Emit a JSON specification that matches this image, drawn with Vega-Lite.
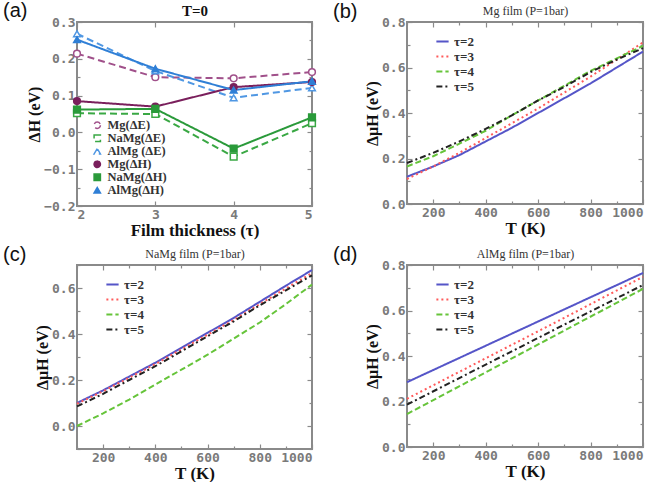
{
  "$schema": "https://vega.github.io/schema/vega-lite/v6.json",
  "background": "white",
  "padding": {"left": 2, "top": 0, "right": 2, "bottom": 0},
  "config": {
    "view": {"stroke": "#8a8a8a", "strokeWidth": 2},
    "axis": {
      "grid": false, "domain": false,
      "tickColor": "#8a8a8a", "tickSize": -5, "tickWidth": 1.2,
      "labelFont": "DejaVu Sans Mono", "labelFontWeight": "bold", "labelColor": "#7a7a7a", "labelFontSize": 13, "labelPadding": 7,
      "titleFont": "Liberation Serif", "titleFontWeight": "bold", "titleFontSize": 17, "titleColor": "#111", "titlePadding": 1
    },
    "legend": {"labelFont": "Liberation Serif", "labelFontWeight": "bold", "labelColor": "#333"},
    "title": {"font": "Liberation Sans", "fontWeight": "normal", "fontSize": 20, "color": "#111", "anchor": "start", "frame": "group", "dx": -74, "offset": -18}
  },
  "datasets": {
    "a": [
      {"t": 2, "dh": 0.214, "s": "Mg(ΔE)"}, {"t": 3, "dh": 0.150, "s": "Mg(ΔE)"}, {"t": 4, "dh": 0.147, "s": "Mg(ΔE)"}, {"t": 5, "dh": 0.164, "s": "Mg(ΔE)"},
      {"t": 2, "dh": 0.052, "s": "NaMg(ΔE)"}, {"t": 3, "dh": 0.050, "s": "NaMg(ΔE)"}, {"t": 4, "dh": -0.066, "s": "NaMg(ΔE)"}, {"t": 5, "dh": 0.025, "s": "NaMg(ΔE)"},
      {"t": 2, "dh": 0.268, "s": "AlMg (ΔE)"}, {"t": 3, "dh": 0.167, "s": "AlMg (ΔE)"}, {"t": 4, "dh": 0.094, "s": "AlMg (ΔE)"}, {"t": 5, "dh": 0.121, "s": "AlMg (ΔE)"},
      {"t": 2, "dh": 0.085, "s": "Mg(ΔH)"}, {"t": 3, "dh": 0.070, "s": "Mg(ΔH)"}, {"t": 4, "dh": 0.123, "s": "Mg(ΔH)"}, {"t": 5, "dh": 0.137, "s": "Mg(ΔH)"},
      {"t": 2, "dh": 0.062, "s": "NaMg(ΔH)"}, {"t": 3, "dh": 0.064, "s": "NaMg(ΔH)"}, {"t": 4, "dh": -0.044, "s": "NaMg(ΔH)"}, {"t": 5, "dh": 0.041, "s": "NaMg(ΔH)"},
      {"t": 2, "dh": 0.252, "s": "AlMg(ΔH)"}, {"t": 3, "dh": 0.173, "s": "AlMg(ΔH)"}, {"t": 4, "dh": 0.115, "s": "AlMg(ΔH)"}, {"t": 5, "dh": 0.139, "s": "AlMg(ΔH)"}
    ],
    "b": [
      {"T": 100, "mu": 0.120, "tau": "τ=2"}, {"T": 200, "mu": 0.165, "tau": "τ=2"}, {"T": 300, "mu": 0.215, "tau": "τ=2"}, {"T": 400, "mu": 0.275, "tau": "τ=2"}, {"T": 500, "mu": 0.335, "tau": "τ=2"}, {"T": 600, "mu": 0.400, "tau": "τ=2"}, {"T": 700, "mu": 0.465, "tau": "τ=2"}, {"T": 800, "mu": 0.530, "tau": "τ=2"}, {"T": 900, "mu": 0.600, "tau": "τ=2"}, {"T": 1000, "mu": 0.670, "tau": "τ=2"},
      {"T": 100, "mu": 0.110, "tau": "τ=3"}, {"T": 200, "mu": 0.165, "tau": "τ=3"}, {"T": 300, "mu": 0.225, "tau": "τ=3"}, {"T": 400, "mu": 0.290, "tau": "τ=3"}, {"T": 500, "mu": 0.355, "tau": "τ=3"}, {"T": 600, "mu": 0.420, "tau": "τ=3"}, {"T": 700, "mu": 0.490, "tau": "τ=3"}, {"T": 800, "mu": 0.560, "tau": "τ=3"}, {"T": 900, "mu": 0.635, "tau": "τ=3"}, {"T": 1000, "mu": 0.710, "tau": "τ=3"},
      {"T": 100, "mu": 0.165, "tau": "τ=4"}, {"T": 200, "mu": 0.210, "tau": "τ=4"}, {"T": 300, "mu": 0.265, "tau": "τ=4"}, {"T": 400, "mu": 0.322, "tau": "τ=4"}, {"T": 500, "mu": 0.390, "tau": "τ=4"}, {"T": 600, "mu": 0.455, "tau": "τ=4"}, {"T": 700, "mu": 0.520, "tau": "τ=4"}, {"T": 800, "mu": 0.585, "tau": "τ=4"}, {"T": 900, "mu": 0.640, "tau": "τ=4"}, {"T": 1000, "mu": 0.695, "tau": "τ=4"},
      {"T": 100, "mu": 0.180, "tau": "τ=5"}, {"T": 200, "mu": 0.225, "tau": "τ=5"}, {"T": 300, "mu": 0.275, "tau": "τ=5"}, {"T": 400, "mu": 0.330, "tau": "τ=5"}, {"T": 500, "mu": 0.390, "tau": "τ=5"}, {"T": 600, "mu": 0.455, "tau": "τ=5"}, {"T": 700, "mu": 0.515, "tau": "τ=5"}, {"T": 800, "mu": 0.580, "tau": "τ=5"}, {"T": 900, "mu": 0.635, "tau": "τ=5"}, {"T": 1000, "mu": 0.685, "tau": "τ=5"}
    ],
    "c": [
      {"T": 100, "mu": 0.100, "tau": "τ=2"}, {"T": 200, "mu": 0.155, "tau": "τ=2"}, {"T": 300, "mu": 0.215, "tau": "τ=2"}, {"T": 400, "mu": 0.275, "tau": "τ=2"}, {"T": 500, "mu": 0.340, "tau": "τ=2"}, {"T": 600, "mu": 0.405, "tau": "τ=2"}, {"T": 700, "mu": 0.470, "tau": "τ=2"}, {"T": 800, "mu": 0.540, "tau": "τ=2"}, {"T": 900, "mu": 0.610, "tau": "τ=2"}, {"T": 1000, "mu": 0.678, "tau": "τ=2"},
      {"T": 100, "mu": 0.097, "tau": "τ=3"}, {"T": 200, "mu": 0.151, "tau": "τ=3"}, {"T": 300, "mu": 0.210, "tau": "τ=3"}, {"T": 400, "mu": 0.269, "tau": "τ=3"}, {"T": 500, "mu": 0.333, "tau": "τ=3"}, {"T": 600, "mu": 0.397, "tau": "τ=3"}, {"T": 700, "mu": 0.461, "tau": "τ=3"}, {"T": 800, "mu": 0.530, "tau": "τ=3"}, {"T": 900, "mu": 0.598, "tau": "τ=3"}, {"T": 1000, "mu": 0.665, "tau": "τ=3"},
      {"T": 100, "mu": 0.000, "tau": "τ=4"}, {"T": 200, "mu": 0.055, "tau": "τ=4"}, {"T": 300, "mu": 0.115, "tau": "τ=4"}, {"T": 400, "mu": 0.180, "tau": "τ=4"}, {"T": 500, "mu": 0.245, "tau": "τ=4"}, {"T": 600, "mu": 0.310, "tau": "τ=4"}, {"T": 700, "mu": 0.380, "tau": "τ=4"}, {"T": 800, "mu": 0.450, "tau": "τ=4"}, {"T": 900, "mu": 0.530, "tau": "τ=4"}, {"T": 1000, "mu": 0.615, "tau": "τ=4"},
      {"T": 100, "mu": 0.085, "tau": "τ=5"}, {"T": 200, "mu": 0.140, "tau": "τ=5"}, {"T": 300, "mu": 0.200, "tau": "τ=5"}, {"T": 400, "mu": 0.260, "tau": "τ=5"}, {"T": 500, "mu": 0.325, "tau": "τ=5"}, {"T": 600, "mu": 0.390, "tau": "τ=5"}, {"T": 700, "mu": 0.455, "tau": "τ=5"}, {"T": 800, "mu": 0.525, "tau": "τ=5"}, {"T": 900, "mu": 0.590, "tau": "τ=5"}, {"T": 1000, "mu": 0.655, "tau": "τ=5"}
    ],
    "d": [
      {"T": 100, "mu": 0.285, "tau": "τ=2"}, {"T": 400, "mu": 0.445, "tau": "τ=2"}, {"T": 700, "mu": 0.605, "tau": "τ=2"}, {"T": 1000, "mu": 0.765, "tau": "τ=2"},
      {"T": 100, "mu": 0.212, "tau": "τ=3"}, {"T": 400, "mu": 0.390, "tau": "τ=3"}, {"T": 700, "mu": 0.568, "tau": "τ=3"}, {"T": 1000, "mu": 0.748, "tau": "τ=3"},
      {"T": 100, "mu": 0.145, "tau": "τ=4"}, {"T": 400, "mu": 0.328, "tau": "τ=4"}, {"T": 700, "mu": 0.512, "tau": "τ=4"}, {"T": 1000, "mu": 0.695, "tau": "τ=4"},
      {"T": 100, "mu": 0.186, "tau": "τ=5"}, {"T": 400, "mu": 0.362, "tau": "τ=5"}, {"T": 700, "mu": 0.538, "tau": "τ=5"}, {"T": 1000, "mu": 0.712, "tau": "τ=5"}
    ]
  },
  "columns": 2,
  "spacing": {"row": 5, "column": 12},
  "concat": [
    {
      "title": "(a)",
      "width": 235, "height": 184,
      "data": {"name": "a"},
      "resolve": {"axis": {"x": "independent", "y": "independent"}},
      "layer": [
        {
          "mark": {"type": "line", "strokeWidth": 2},
          "encoding": {
            "x": {"field": "t", "type": "quantitative", "scale": {"domain": [2, 5]}, "axis": {"orient": "bottom", "values": [2, 3, 4, 5], "title": "Film thickness (τ)"}},
            "y": {"field": "dh", "type": "quantitative", "scale": {"domain": [-0.2, 0.3]}, "axis": {"orient": "left", "values": [-0.2, -0.15, -0.1, -0.05, 0, 0.05, 0.1, 0.15, 0.2, 0.25, 0.3], "format": ".1f", "labelExpr": "abs(round(datum.value*100)) % 10 == 0 ? datum.label : ''", "tickSize": {"condition": {"test": "abs(round(datum.value*100)) % 10 == 0", "value": -5}, "value": -3}, "title": "ΔH (eV)", "titleFontSize": 16}},
            "stroke": {"field": "s", "type": "nominal", "title": null, "scale": {"domain": ["Mg(ΔE)", "NaMg(ΔE)", "AlMg (ΔE)", "Mg(ΔH)", "NaMg(ΔH)", "AlMg(ΔH)"], "range": ["#a0508a", "#3aa844", "#4f97e3", "#7a1f5c", "#2a9a3a", "#2f7fd6"]}, "legend": {"orient": "none", "legendX": 14, "legendY": 97, "labelFontSize": 12.5, "symbolSize": 40, "rowPadding": 0, "symbolStrokeWidth": 1.5}},
            "strokeDash": {"field": "s", "type": "nominal", "title": null, "scale": {"domain": ["Mg(ΔE)", "NaMg(ΔE)", "AlMg (ΔE)", "Mg(ΔH)", "NaMg(ΔH)", "AlMg(ΔH)"], "range": [[7, 4], [7, 4], [7, 4], [1, 0], [1, 0], [1, 0]]}}
          }
        },
        {
          "mark": {"type": "point", "size": 45, "strokeWidth": 1.5, "opacity": 1},
          "encoding": {
            "x": {"field": "t", "type": "quantitative", "axis": {"orient": "top", "values": [2, 3, 4, 5], "labels": false, "title": "T=0", "titleFontSize": 15, "titlePadding": 3}},
            "y": {"field": "dh", "type": "quantitative", "axis": {"orient": "right", "values": [-0.2, -0.15, -0.1, -0.05, 0, 0.05, 0.1, 0.15, 0.2, 0.25, 0.3], "labels": false, "tickSize": {"condition": {"test": "abs(round(datum.value*100)) % 10 == 0", "value": -5}, "value": -3}, "title": null}},
            "stroke": {"field": "s", "type": "nominal", "title": null},
            "shape": {"field": "s", "type": "nominal", "title": null, "scale": {"domain": ["Mg(ΔE)", "NaMg(ΔE)", "AlMg (ΔE)", "Mg(ΔH)", "NaMg(ΔH)", "AlMg(ΔH)"], "range": ["circle", "square", "triangle-up", "circle", "square", "triangle-up"]}},
            "fill": {"field": "s", "type": "nominal", "title": null, "scale": {"domain": ["Mg(ΔE)", "NaMg(ΔE)", "AlMg (ΔE)", "Mg(ΔH)", "NaMg(ΔH)", "AlMg(ΔH)"], "range": ["#ffffff", "#ffffff", "#ffffff", "#7a1f5c", "#2a9a3a", "#2f7fd6"]}}
          }
        }
      ]
    },
    {
      "title": "(b)",
      "width": 236, "height": 182,
      "data": {"name": "b"},
      "resolve": {"axis": {"x": "independent", "y": "independent"}},
      "layer": [
        {
          "mark": {"type": "line", "strokeWidth": 2},
          "encoding": {
            "x": {"field": "T", "type": "quantitative", "scale": {"domain": [100, 1000]}, "axis": {"orient": "bottom", "values": [100, 200, 300, 400, 500, 600, 700, 800, 900, 1000], "format": "d", "labelExpr": "datum.value % 200 == 0 ? datum.label : ''", "tickSize": {"condition": {"test": "datum.value % 200 == 0", "value": -5}, "value": -3}, "title": "T (K)"}},
            "y": {"field": "mu", "type": "quantitative", "scale": {"domain": [0, 0.8]}, "axis": {"orient": "left", "values": [0, 0.1, 0.2, 0.3, 0.4, 0.5, 0.6, 0.7, 0.8], "format": ".1f", "labelExpr": "round(datum.value*10) % 2 == 0 ? datum.label : ''", "tickSize": {"condition": {"test": "round(datum.value*10) % 2 == 0", "value": -5}, "value": -3}, "title": "ΔμH (eV)", "titleFontSize": 16}},
            "stroke": {"field": "tau", "type": "nominal", "title": null, "scale": {"domain": ["τ=2", "τ=3", "τ=4", "τ=5"], "range": ["#5555c8", "#ff5a5a", "#66c43a", "#222222"]}, "legend": {"orient": "none", "legendX": 28, "legendY": 12, "labelFontSize": 13, "symbolType": "stroke", "symbolSize": 150, "rowPadding": 0, "labelOffset": 4, "symbolStrokeWidth": 2}},
            "strokeDash": {"field": "tau", "type": "nominal", "title": null, "scale": {"domain": ["τ=2", "τ=3", "τ=4", "τ=5"], "range": [[1, 0], [2, 3], [6, 3], [6, 3, 2, 3]]}}
          }
        },
        {
          "mark": {"type": "point", "opacity": 0},
          "encoding": {
            "x": {"field": "T", "type": "quantitative", "axis": {"orient": "top", "values": [100, 200, 300, 400, 500, 600, 700, 800, 900, 1000], "labels": false, "tickSize": {"condition": {"test": "datum.value % 200 == 0", "value": -5}, "value": -3}, "title": "Mg film (P=1bar)", "titleFontSize": 12, "titleFontWeight": "normal", "titleColor": "#333", "titlePadding": 4}},
            "y": {"field": "mu", "type": "quantitative", "axis": {"orient": "right", "values": [0, 0.1, 0.2, 0.3, 0.4, 0.5, 0.6, 0.7, 0.8], "labels": false, "tickSize": {"condition": {"test": "round(datum.value*10) % 2 == 0", "value": -5}, "value": -3}, "title": null}}
          }
        }
      ]
    },
    {
      "title": "(c)",
      "width": 235, "height": 184,
      "data": {"name": "c"},
      "resolve": {"axis": {"x": "independent", "y": "independent"}},
      "layer": [
        {
          "mark": {"type": "line", "strokeWidth": 2},
          "encoding": {
            "x": {"field": "T", "type": "quantitative", "scale": {"domain": [100, 1000]}, "axis": {"orient": "bottom", "values": [100, 200, 300, 400, 500, 600, 700, 800, 900, 1000], "format": "d", "labelExpr": "datum.value % 200 == 0 ? datum.label : ''", "tickSize": {"condition": {"test": "datum.value % 200 == 0", "value": -5}, "value": -3}, "title": "T (K)"}},
            "y": {"field": "mu", "type": "quantitative", "scale": {"domain": [-0.1, 0.7]}, "axis": {"orient": "left", "values": [-0.1, 0, 0.1, 0.2, 0.3, 0.4, 0.5, 0.6, 0.7], "format": ".1f", "labelExpr": "round(datum.value*10) % 2 == 0 ? datum.label : ''", "tickSize": {"condition": {"test": "round(datum.value*10) % 2 == 0", "value": -5}, "value": -3}, "title": "ΔμH (eV)", "titleFontSize": 16}},
            "stroke": {"field": "tau", "type": "nominal", "title": null, "scale": {"domain": ["τ=2", "τ=3", "τ=4", "τ=5"], "range": ["#5555c8", "#ff5a5a", "#66c43a", "#222222"]}, "legend": {"orient": "none", "legendX": 28, "legendY": 12, "labelFontSize": 13, "symbolType": "stroke", "symbolSize": 150, "rowPadding": 0, "labelOffset": 4, "symbolStrokeWidth": 2}},
            "strokeDash": {"field": "tau", "type": "nominal", "title": null, "scale": {"domain": ["τ=2", "τ=3", "τ=4", "τ=5"], "range": [[1, 0], [2, 3], [6, 3], [6, 3, 2, 3]]}}
          }
        },
        {
          "mark": {"type": "point", "opacity": 0},
          "encoding": {
            "x": {"field": "T", "type": "quantitative", "axis": {"orient": "top", "values": [100, 200, 300, 400, 500, 600, 700, 800, 900, 1000], "labels": false, "tickSize": {"condition": {"test": "datum.value % 200 == 0", "value": -5}, "value": -3}, "title": "NaMg film (P=1bar)", "titleFontSize": 12, "titleFontWeight": "normal", "titleColor": "#333", "titlePadding": 4}},
            "y": {"field": "mu", "type": "quantitative", "axis": {"orient": "right", "values": [-0.1, 0, 0.1, 0.2, 0.3, 0.4, 0.5, 0.6, 0.7], "labels": false, "tickSize": {"condition": {"test": "round(datum.value*10) % 2 == 0", "value": -5}, "value": -3}, "title": null}}
          }
        }
      ]
    },
    {
      "title": "(d)",
      "width": 236, "height": 182,
      "data": {"name": "d"},
      "resolve": {"axis": {"x": "independent", "y": "independent"}},
      "layer": [
        {
          "mark": {"type": "line", "strokeWidth": 2},
          "encoding": {
            "x": {"field": "T", "type": "quantitative", "scale": {"domain": [100, 1000]}, "axis": {"orient": "bottom", "values": [100, 200, 300, 400, 500, 600, 700, 800, 900, 1000], "format": "d", "labelExpr": "datum.value % 200 == 0 ? datum.label : ''", "tickSize": {"condition": {"test": "datum.value % 200 == 0", "value": -5}, "value": -3}, "title": "T (K)"}},
            "y": {"field": "mu", "type": "quantitative", "scale": {"domain": [0, 0.8]}, "axis": {"orient": "left", "values": [0, 0.1, 0.2, 0.3, 0.4, 0.5, 0.6, 0.7, 0.8], "format": ".1f", "labelExpr": "round(datum.value*10) % 2 == 0 ? datum.label : ''", "tickSize": {"condition": {"test": "round(datum.value*10) % 2 == 0", "value": -5}, "value": -3}, "title": "ΔμH (eV)", "titleFontSize": 16}},
            "stroke": {"field": "tau", "type": "nominal", "title": null, "scale": {"domain": ["τ=2", "τ=3", "τ=4", "τ=5"], "range": ["#5555c8", "#ff5a5a", "#66c43a", "#222222"]}, "legend": {"orient": "none", "legendX": 28, "legendY": 12, "labelFontSize": 13, "symbolType": "stroke", "symbolSize": 150, "rowPadding": 0, "labelOffset": 4, "symbolStrokeWidth": 2}},
            "strokeDash": {"field": "tau", "type": "nominal", "title": null, "scale": {"domain": ["τ=2", "τ=3", "τ=4", "τ=5"], "range": [[1, 0], [2, 3], [6, 3], [6, 3, 2, 3]]}}
          }
        },
        {
          "mark": {"type": "point", "opacity": 0},
          "encoding": {
            "x": {"field": "T", "type": "quantitative", "axis": {"orient": "top", "values": [100, 200, 300, 400, 500, 600, 700, 800, 900, 1000], "labels": false, "tickSize": {"condition": {"test": "datum.value % 200 == 0", "value": -5}, "value": -3}, "title": "AlMg film (P=1bar)", "titleFontSize": 12, "titleFontWeight": "normal", "titleColor": "#333", "titlePadding": 4}},
            "y": {"field": "mu", "type": "quantitative", "axis": {"orient": "right", "values": [0, 0.1, 0.2, 0.3, 0.4, 0.5, 0.6, 0.7, 0.8], "labels": false, "tickSize": {"condition": {"test": "round(datum.value*10) % 2 == 0", "value": -5}, "value": -3}, "title": null}}
          }
        }
      ]
    }
  ],
  "resolve": {"scale": {"stroke": "independent", "strokeDash": "independent", "shape": "independent", "fill": "independent", "x": "independent", "y": "independent"}, "legend": {"stroke": "independent", "strokeDash": "independent", "shape": "independent", "fill": "independent"}}
}
